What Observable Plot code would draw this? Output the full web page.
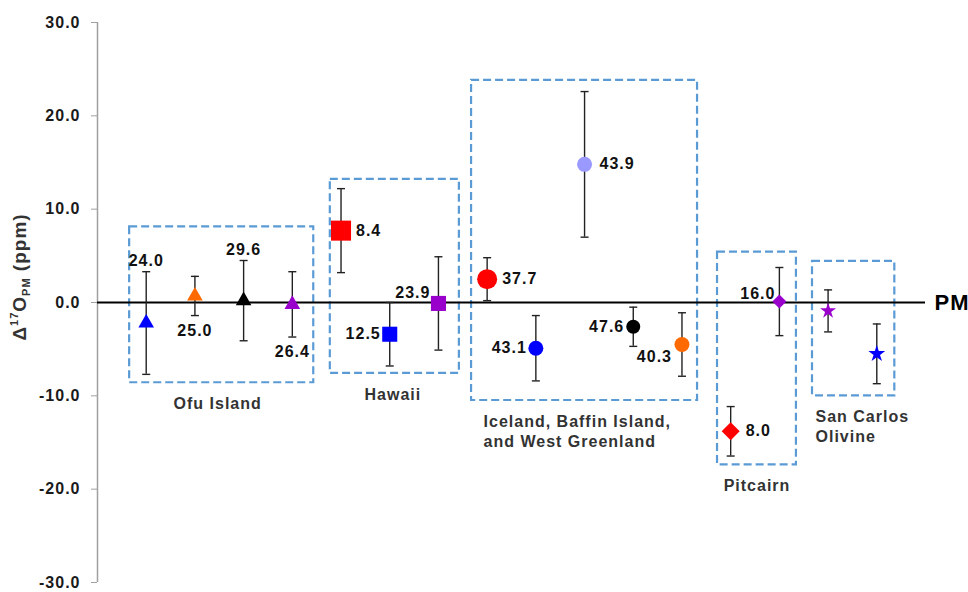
<!DOCTYPE html>
<html><head><meta charset="utf-8">
<script src="https://cdn.jsdelivr.net/npm/d3@7"></script>
<script src="https://cdn.jsdelivr.net/npm/@observablehq/plot@0.6"></script>
<style>body{margin:0;background:#fff;} #chart svg{display:block}</style>
</head><body><div id="chart"></div>
<script>
// ---- data ----
const groups = ["Ofu Island", "Hawaii", "Iceland, Baffin Island,\nand West Greenland", "Pitcairn", "San Carlos\nOlivine"];
const pointGroup = [0,0,0,0, 1,1,1, 2,2,2,2,2, 3,3, 4,4];
const valueLabels = ["24.0","25.0","29.6","26.4","8.4","12.5","23.9","37.7","43.1","43.9","47.6","40.3","8.0","16.0","",""];
const d17O = [-2.2, 0.7, 0.2, -0.2, 7.7, -3.4, -0.1, 2.5, -4.9, 14.8, -2.6, -4.5, -13.8, 0.1, -0.9, -5.5];
const err  = [5.5, 2.1, 4.3, 3.5, 4.5, 3.4, 5.0, 2.3, 3.5, 7.8, 2.1, 3.4, 2.65, 3.65, 2.25, 3.2];
const boxX1 = [0.66, 4.78, 7.68, 12.73, 14.68];
const boxX2 = [4.44, 7.43, 12.32, 14.35, 16.37];
const boxTop = [8.1, 13.2, 23.8, 5.4, 4.4];
const boxBottom = [-8.6, -7.6, -10.5, -17.4, -10.0];
const yTicks = [-30, -20, -10, 0, 10, 20, 30];
const refLabel = "PM";

// ---- styles ----
const colors = ["#0000ff","#ff6a00","#000000","#9900cc","#ff0000","#0000ff","#9900cc","#ff0000","#0000ff","#9999ff","#000000","#ff6a00","#ff0000","#9900cc","#9900cc","#0000ff"];
const symbols = ["triangle","triangle","triangle","triangle","square","square","square","circle","circle","circle","circle","circle","diamond2","diamond2","star","star"];
const radii = [5.8,5.8,5.8,5.8, 11.3,8.5,8.5, 10,7.5,7.5,7,7.5, 8.1,6.3, 5.0,5.3];
const labelPlace = ["above","below","above","below","right","left","leftUp","right","left","right","left","leftDown","right","leftUp2","none","none"];
const placements = {
  above:   {anchor: "middle", dx: 0,   dy: -11, at: "top"},
  below:   {anchor: "middle", dx: 0,   dy: 15,  at: "bottom"},
  right:   {anchor: "start",  dx: 15,  dy: 0,   at: "point"},
  left:    {anchor: "end",    dx: -9,  dy: 0,   at: "point"},
  leftUp:  {anchor: "end",    dx: -8,  dy: -11, at: "point"},
  leftUp2: {anchor: "end",    dx: -4,  dy: -8,  at: "point"},
  leftDown:{anchor: "end",    dx: -10, dy: 12,  at: "point"}
};
const groupAnchor = ["middle","middle","start","middle","start"];
const groupDx = [-4, -2, 12, 0, 3];

const pts = d17O.map((v, i) => ({
  i, x: i + 1, y: v, lo: v - err[i], hi: v + err[i],
  label: valueLabels[i], color: colors[i], symbol: symbols[i], r: radii[i], place: labelPlace[i]
}));
const boxes = groups.map((g, k) => ({name: g, x1: boxX1[k], x2: boxX2[k], y1: boxBottom[k], y2: boxTop[k]}));

const cap = {draw(ctx) { ctx.moveTo(-4, 0); ctx.lineTo(4, 0); }};

const labelMarks = Object.entries(placements).map(([key, p]) => {
  const sub = pts.filter(d => d.place === key);
  return Plot.text(sub, {
    x: "x",
    y: d => p.at === "top" ? d.hi : p.at === "bottom" ? d.lo : d.y,
    text: "label", textAnchor: p.anchor, dx: p.dx, dy: p.dy,
    fontSize: 16, fontWeight: "bold", fill: "#111"
  });
});

const groupMarks = boxes.map((b, k) => Plot.text([b], {
  x: groupAnchor[k] === "middle" ? (d => (d.x1 + d.x2) / 2) : "x1",
  y: "y1", text: "name", textAnchor: groupAnchor[k], lineAnchor: "top",
  dx: groupDx[k], dy: 12, lineHeight: 1.25,
  fontSize: 16, fontWeight: "bold", fill: "#333"
}));

const chart = Plot.plot({
  width: 968, height: 592,
  marginTop: 22, marginBottom: 10, marginLeft: 97, marginRight: 43,
  x: {domain: [0, 17], axis: null},
  y: {domain: [-30, 30]},
  style: {fontFamily: "'Liberation Sans', Arial, sans-serif", background: "#fff", letterSpacing: "1px"},
  marks: [
    Plot.ruleX([0], {y1: -30, y2: 30, stroke: "#a0a0a0", strokeWidth: 1.5}),
    Plot.axisY({ticks: yTicks, tickFormat: d => d.toFixed(1), tickSize: 6, tickPadding: 11,
      stroke: "#a0a0a0", fill: "#1a1a1a", fontSize: 16, fontWeight: "bold", label: null}),
    Plot.rect(boxes, {x1: "x1", x2: "x2", y1: "y1", y2: "y2", fill: "none",
      stroke: "#5b9bd5", strokeWidth: 2.2, strokeDasharray: "8,4"}),
    Plot.ruleY([0], {stroke: "#000", strokeWidth: 2}),
    Plot.ruleX(pts, {x: "x", y1: "lo", y2: "hi", stroke: "#222", strokeWidth: 1.4}),
    Plot.dot(pts, {x: "x", y: "lo", symbol: () => cap, r: 3, stroke: "#222", strokeWidth: 1.4, fill: "none"}),
    Plot.dot(pts, {x: "x", y: "hi", symbol: () => cap, r: 3, stroke: "#222", strokeWidth: 1.4, fill: "none"}),
    Plot.dot(pts, {x: "x", y: "y", symbol: "symbol", r: "r", fill: "color", stroke: "none"}),
    ...labelMarks,
    ...groupMarks,
    Plot.text([refLabel], {x: 17, y: 0, text: d => d, textAnchor: "start", dx: 9, fontSize: 22, fontWeight: "bold", fill: "#000"})
  ],
  symbol: {type: "identity"},
  r: {type: "identity"}
});

// y-axis title with superscript / subscript
const svg = d3.select(chart);
const t = svg.append("text")
  .attr("transform", "translate(26,277) rotate(-90)")
  .attr("text-anchor", "middle")
  .attr("font-size", 19).attr("font-weight", "bold").attr("fill", "#333")
  .attr("font-family", "'Liberation Sans', Arial, sans-serif");
t.append("tspan").text("Δ");
t.append("tspan").attr("font-size", 11).attr("dy", -8).text("17");
t.append("tspan").attr("dy", 8).text("O");
t.append("tspan").attr("font-size", 11).attr("dy", 4).text("PM");
t.append("tspan").attr("dy", -4).text(" (ppm)");

document.getElementById("chart").append(chart);
</script>
</body></html>
